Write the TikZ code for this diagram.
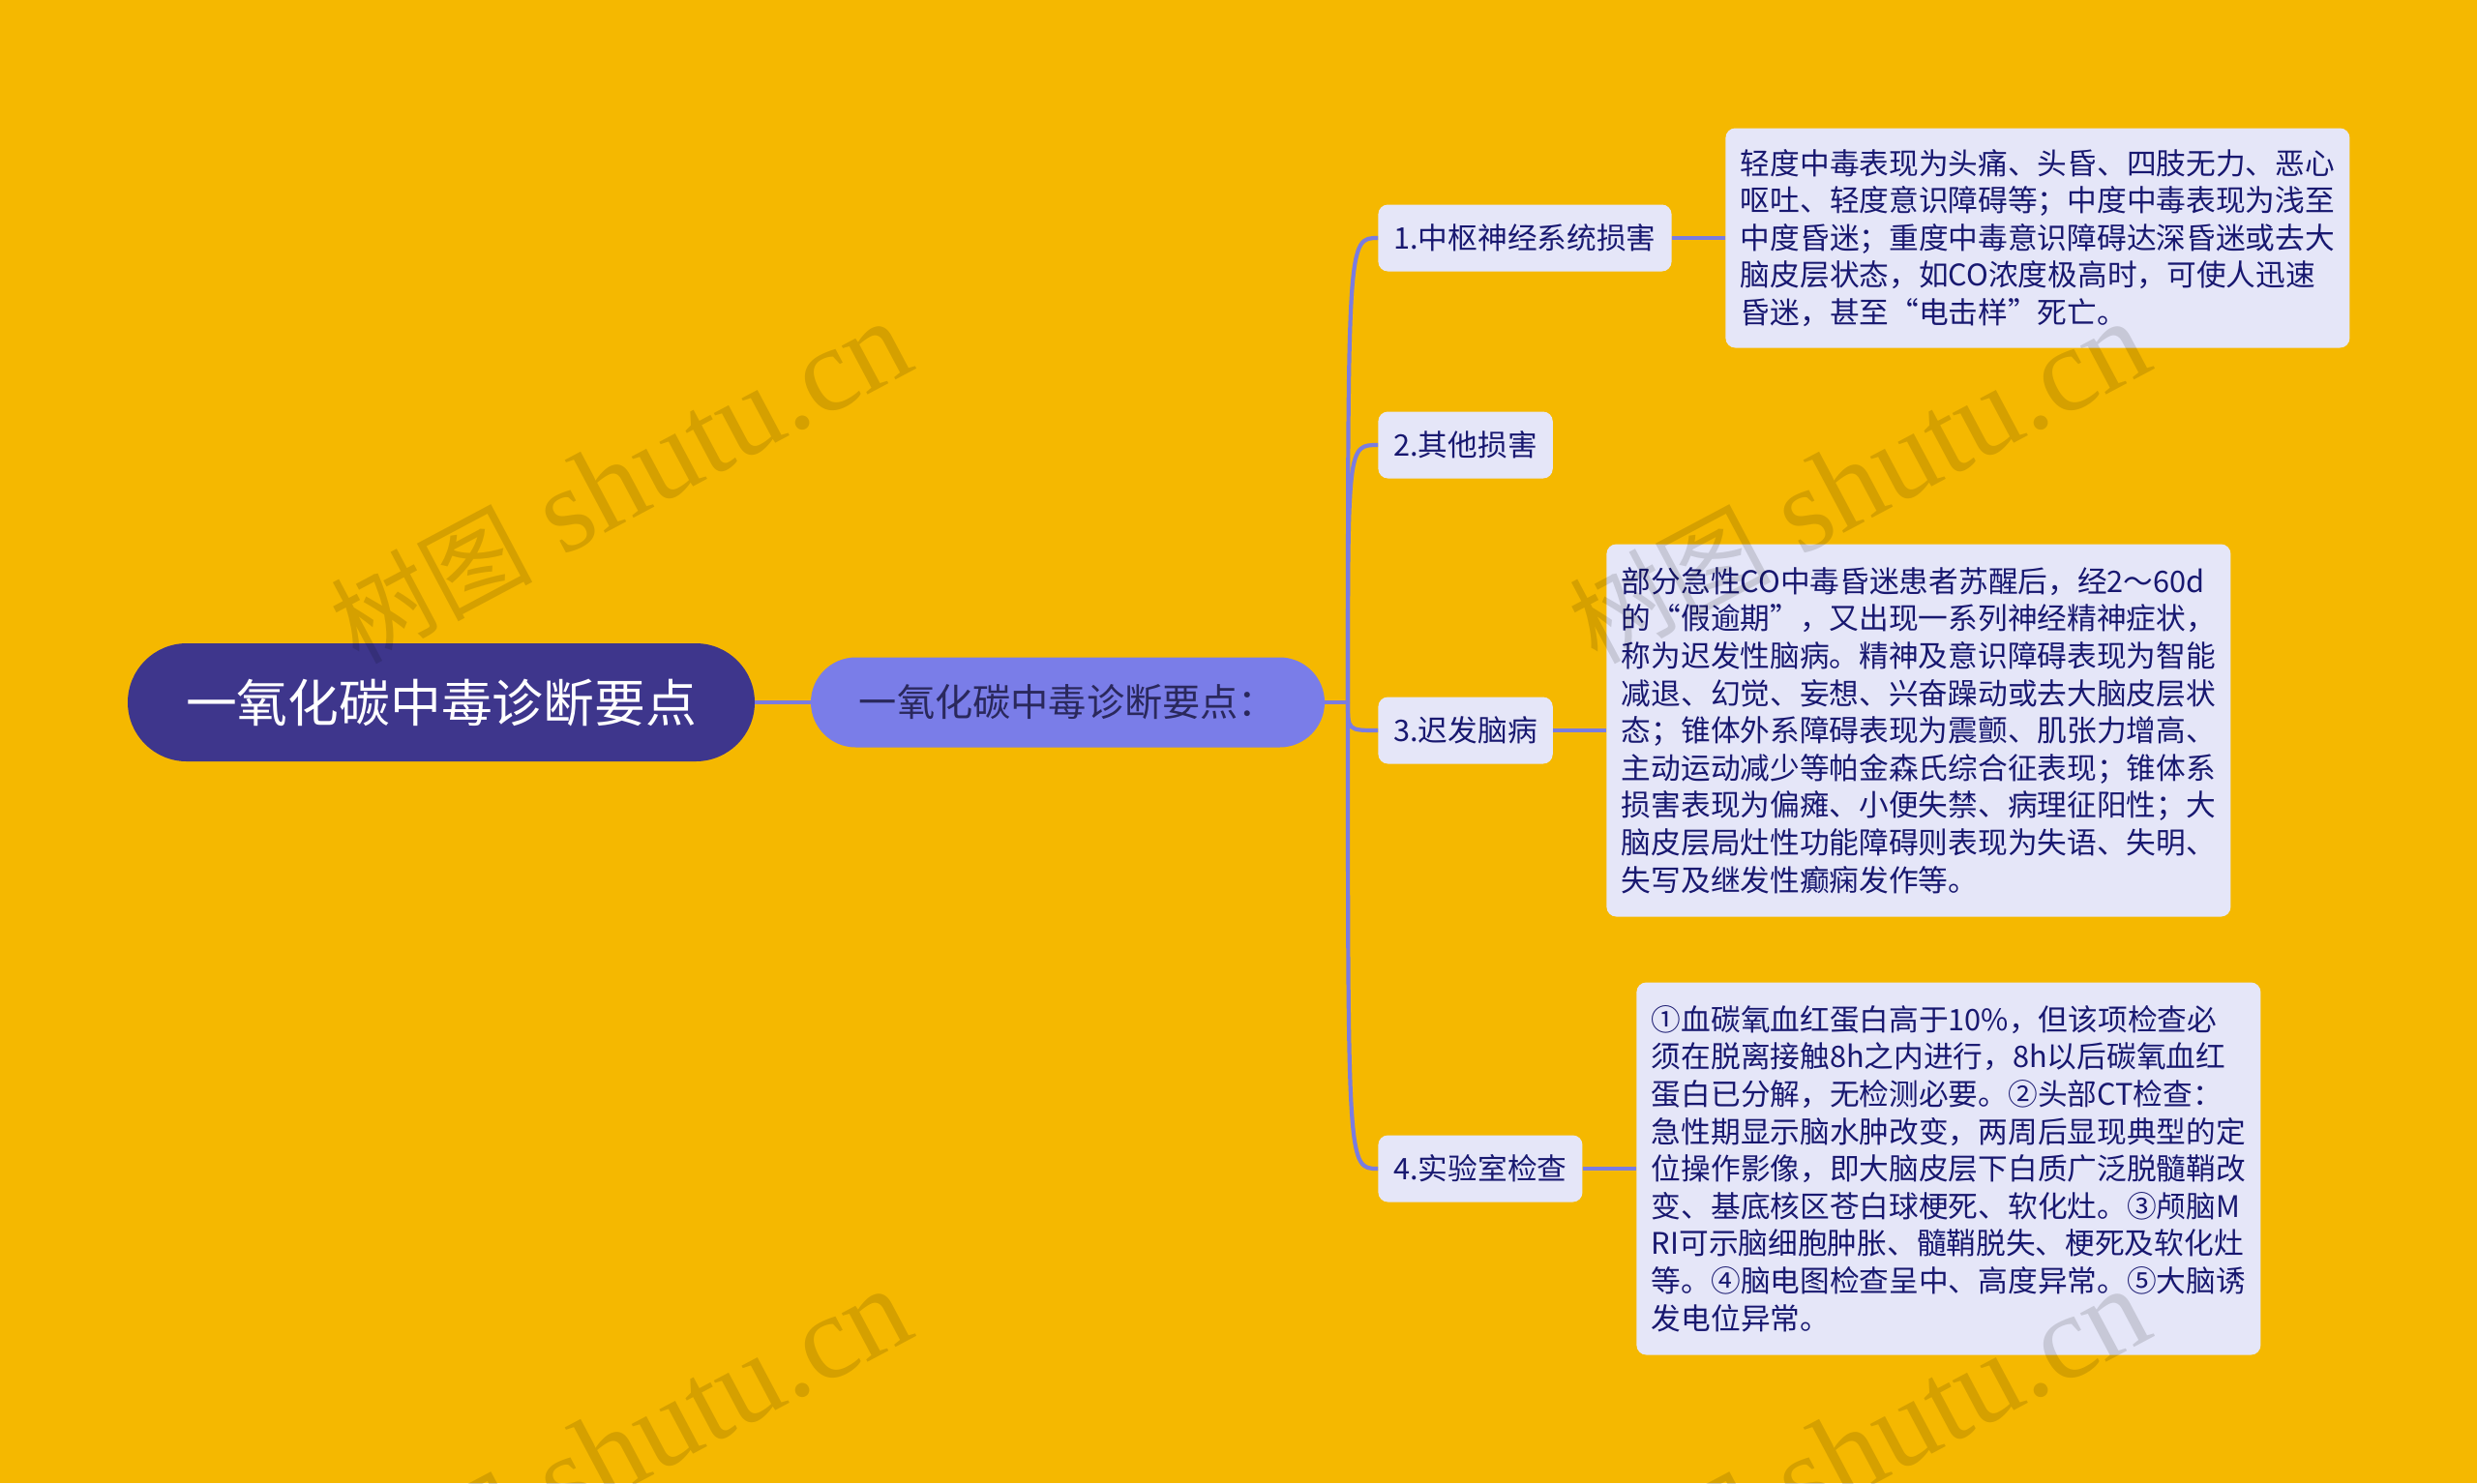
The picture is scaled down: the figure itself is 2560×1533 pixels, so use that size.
\documentclass[tikz,border=0pt]{standalone}
\usepackage{fontspec}
\setmainfont{Noto Sans CJK SC}
\newfontfamily\wmfont{Liberation Serif}
\newfontfamily\wmcjk{Noto Sans CJK SC}
\definecolor{bgyellow}{RGB}{245,184,0}
\definecolor{rootfill}{RGB}{62,54,140}
\definecolor{topicfill}{RGB}{122,125,232}
\definecolor{topictext}{RGB}{42,40,92}
\definecolor{leaffill}{RGB}{229,230,248}
\definecolor{leaftext}{RGB}{24,24,112}
\definecolor{linkcol}{RGB}{122,124,224}
\begin{document}
\begin{tikzpicture}[x=.5pt,y=-.5pt,
  rootnode/.style={fill=rootfill,text=white,inner sep=0pt,minimum width=324pt,minimum height=61pt,rounded corners=30.5pt,font=\fontsize{26.4}{30}\selectfont},
  topicnode/.style={fill=topicfill,text=topictext,inner sep=0pt,minimum width=265.5pt,minimum height=46.5pt,rounded corners=23.25pt,font=\fontsize{19.6}{24}\selectfont},
  leafnode/.style={fill=leaffill,text=leaftext,inner xsep=8pt,inner ysep=0pt,minimum height=34.5pt,rounded corners=5pt,anchor=west,font=\fontsize{15.35}{19.3}\selectfont},
  notenode/.style={leafnode,text width=307pt,inner xsep=7.75pt,align=left},
  branchline/.style={draw=linkcol,line width=2.1pt},
  wmark/.style={inner sep=0pt,anchor=base west,rotate=28,text=black,text opacity=0.13,font=\wmfont\fontsize{62}{62}\selectfont}]
\path[use as bounding box] (0,0) rectangle (2560,1533);
\fill[bgyellow] (0,0) rectangle (2560,1533);
% centre and first level
\node[rootnode] (root) at (456,726) {一氧化碳中毒诊断要点};
\node[topicnode] (topic) at (1103.5,726) {一氧化碳中毒诊断要点：};
\coordinate (fork) at (1393,726);
% branches
\node[leafnode] (cns) at (1424,246) {1.中枢神经系统损害};
\node[leafnode] (other) at (1424,460) {2.其他损害};
\node[leafnode] (late) at (1424,755) {3.迟发脑病};
\node[leafnode] (lab) at (1424,1208) {4.实验室检查};
% notes
\node[notenode,minimum height=113.5pt] (cnsnote) at (1783,246) {轻度中毒表现为头痛、头昏、四肢无力、恶心\\呕吐、轻度意识障碍等；中度中毒表现为浅至\\中度昏迷；重度中毒意识障碍达深昏迷或去大\\脑皮层状态，如CO浓度极高时，可使人迅速\\昏迷，甚至“电击样”死亡。};
\node[notenode,minimum height=192.5pt] (latenote) at (1660,755) {部分急性CO中毒昏迷患者苏醒后，经2～60d\\的“假逾期”，又出现一系列神经精神症状，\\称为迟发性脑病。精神及意识障碍表现为智能\\减退、幻觉、妄想、兴奋躁动或去大脑皮层状\\态；锥体外系障碍表现为震颤、肌张力增高、\\主动运动减少等帕金森氏综合征表现；锥体系\\损害表现为偏瘫、小便失禁、病理征阳性；大\\脑皮层局灶性功能障碍则表现为失语、失明、\\失写及继发性癫痫发作等。};
\node[notenode,minimum height=192.5pt] (labnote) at (1691,1208) {①血碳氧血红蛋白高于10\%，但该项检查必\\须在脱离接触8h之内进行，8h以后碳氧血红\\蛋白已分解，无检测必要。②头部CT检查：\\急性期显示脑水肿改变，两周后显现典型的定\\位操作影像，即大脑皮层下白质广泛脱髓鞘改\\变、基底核区苍白球梗死、软化灶。③颅脑M\\RI可示脑细胞肿胀、髓鞘脱失、梗死及软化灶\\等。④脑电图检查呈中、高度异常。⑤大脑诱\\发电位异常。};
% links
\draw[branchline] (root.east) -- (topic.west);
\draw[branchline] (topic.east) -- (fork);
\foreach \leaf in {cns,other,late,lab}
  \draw[branchline] (fork) .. controls (fork |- \leaf.west) .. (\leaf.west);
\draw[branchline] (cns.east) -- (cnsnote.west);
\draw[branchline] (late.east) -- (latenote.west);
\draw[branchline] (lab.east) -- (labnote.west);
% watermark
\foreach \dx/\dy [count=\k] in {0/0,1280/0,0/1000,1280/1000}
  \node[wmark] (mark\k) at (370+\dx,688+\dy) {{\wmcjk\fontsize{52}{52}\selectfont 树图} shutu.cn};
\end{tikzpicture}
\end{document}
